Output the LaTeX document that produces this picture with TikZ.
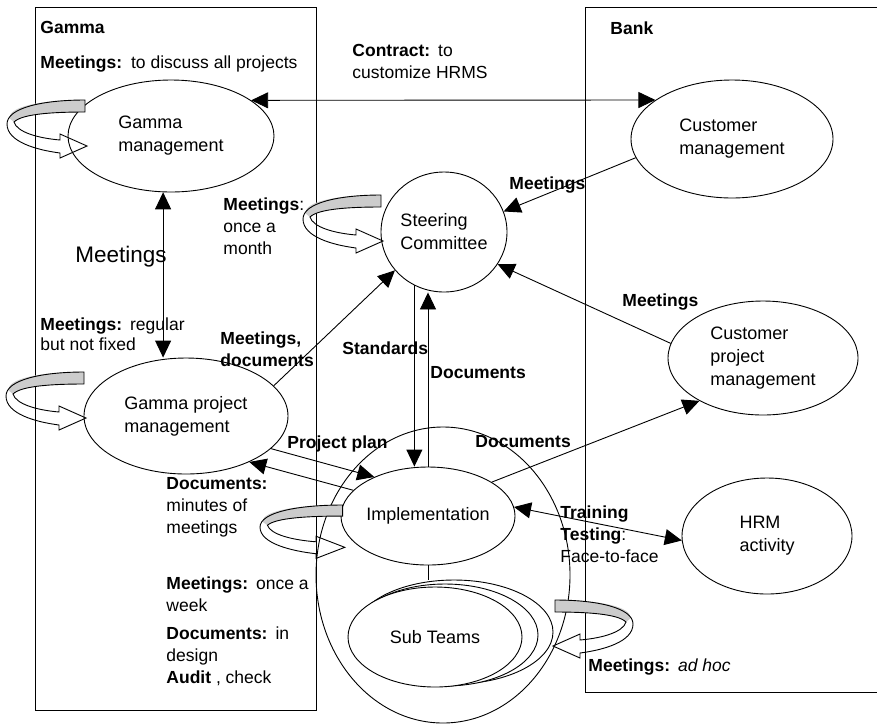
\documentclass[tikz,border=0pt]{standalone}
\usepackage{fontspec}
\setmainfont{Liberation Sans}
\usetikzlibrary{shapes.geometric,arrows.meta}

\tikzset{
  actor/.style={draw, ellipse, inner sep=0pt, align=left, font=\fontsize{18}{23}\selectfont},
  lbl/.style={inner sep=0pt, align=left, font=\fontsize{17.5}{22}\selectfont},
  flow/.style={-{Triangle[length=17pt,width=16pt]}},
  both/.style={{Triangle[length=17pt,width=16pt]}-{Triangle[length=17pt,width=16pt]}},
  meetloop/.pic={
    \fill[gray!40] (78,0) .. controls (35,0) and (3,6) .. (2,18) -- (7,22) .. controls (15,14) and (45,12) .. (78,12) -- cycle;
    \draw (78,0) .. controls (35,0) and (0,8) .. (0,24) .. controls (0,42) and (30,50) .. (53,53)
      -- (53,58) -- (80,46) -- (53,34) -- (53,40) .. controls (30,38) and (10,32) .. (7,22)
      .. controls (15,14) and (45,12) .. (78,12) -- cycle;
  }
}

\begin{document}
\begin{tikzpicture}[x=1pt, y=-1pt, line width=0.9pt]
  \useasboundingbox (0,0) rectangle (877,724);

  % the two sides
  \draw (35,7) rectangle (316,710);
  \draw (877,7) -- (585,7) -- (585,692) -- (877,692);

  % groups
  \node[actor, minimum width=254pt, minimum height=296pt] (grp) at (443,575) {};
  \node[actor, minimum width=206pt, minimum height=112pt] (gm) at (171,136) {Gamma\\management};
  \node[actor, minimum width=126pt, minimum height=120pt] (sc) at (444,232) {Steering\\Committee};
  \node[actor, minimum width=202pt, minimum height=118pt] (cm) at (732,139) {Customer\\management};
  \node[actor, minimum width=190pt, minimum height=114pt] (cpm) at (763,358) {Customer\\project\\management};
  \node[actor, minimum width=204pt, minimum height=116pt] (gpm) at (186,416) {Gamma project\\management};
  \node[actor, minimum width=172pt, minimum height=98pt] (impl) at (428,516) {Implementation};
  \node[actor, minimum width=170pt, minimum height=116pt] (hrm) at (767,536) {HRM\\activity};
  \node[actor, fill=white, minimum width=198pt, minimum height=104pt] (st1) at (454,632) {};
  \node[actor, fill=white, minimum width=186pt, minimum height=102pt] (st2) at (445,635) {};
  \node[actor, fill=white, minimum width=174pt, minimum height=100pt] (st) at (435,637) {Sub Teams};

  % meetings inside each group
  \pic at (7,100) {meetloop};
  \pic at (303,195) {meetloop};
  \pic at (6,372) {meetloop};
  \pic[xscale=1.06, yscale=0.92] at (260,505) {meetloop};
  \pic[xscale=-1] at (633,600) {meetloop};

  % links
  \draw[both] (gm.24) -- (cm.153);
  \draw[both] (gm.262) -- (gm.262 |- gpm.north);
  \draw[flow] (gpm.19) -- (sc.218);
  \draw[flow] (cm.191) -- (sc.19);
  \draw[flow] (cpm.171) -- (sc.329);
  \draw[flow] (sc.241) -- (sc.241 |- impl.north);
  \draw[flow] (impl.north) -- (impl.north |- sc.south);
  \draw[flow] (gpm.339) -- (impl.144);
  \draw[flow] (impl.161) -- (gpm.324);
  \draw[flow] (impl.28) -- (cpm.214);
  \draw[both] (impl.6) -- (hrm.183);
  \draw (impl.south) -- (impl.south |- st1.north);

  % labels
  \node[lbl, anchor=base west] (tgamma) at (40,33) {\textbf{Gamma}};
  \node[lbl, anchor=base west] (tbank) at (610,34) {\textbf{Bank}};
  \node[lbl, anchor=base west] (tdiscuss) at (40,68) {\textbf{Meetings:}\hspace{9pt}to discuss all projects};
  \node[lbl, anchor=north west] (tcontract) at (352,44) {\textbf{Contract:}\hspace{8pt}to\\customize HRMS};
  \node[lbl, anchor=north west] (tmonth) at (223,197) {\textbf{Meetings}:\\once a\\month};
  \node[lbl, anchor=base west, font=\fontsize{22.5}{26}\selectfont] (tmeet) at (75,262) {Meetings};
  \node[lbl, anchor=north west, font=\fontsize{17.5}{20.5}\selectfont] (tregular) at (40,317) {\textbf{Meetings:}\hspace{8pt}regular\\but not fixed};
  \node[lbl, anchor=north west] (tmeetdoc) at (220,331) {\textbf{Meetings,}\\\textbf{documents}};
  \node[lbl, anchor=base west] (tstd) at (342,354) {\textbf{Standards}};
  \node[lbl, anchor=base west] (tdocup) at (430,378) {\textbf{Documents}};
  \node[lbl, anchor=base west] (tmeetcm) at (509,189) {\textbf{Meetings}};
  \node[lbl, anchor=base west] (tmeetcpm) at (622,306) {\textbf{Meetings}};
  \node[lbl, anchor=base west] (tplan) at (287,448) {\textbf{Project plan}};
  \node[lbl, anchor=north west] (tminutes) at (166,477) {\textbf{Documents:}\\minutes of\\meetings};
  \node[lbl, anchor=base west] (tdoccpm) at (475,447) {\textbf{Documents}};
  \node[lbl, anchor=north west] (ttrain) at (560,505) {\textbf{Training}\\\textbf{Testing}:\\Face-to-face};
  \node[lbl, anchor=north west] (tweek) at (166,576) {\textbf{Meetings:}\hspace{8pt}once a\\week};
  \node[lbl, anchor=north west] (tdesign) at (166,626) {\textbf{Documents:}\hspace{8pt}in\\design};
  \node[lbl, anchor=base west] (taudit) at (166,683) {\textbf{Audit} , check};
  \node[lbl, anchor=base west] (tadhoc) at (588,671) {\textbf{Meetings:}\hspace{8pt}\textit{ad hoc}};
\end{tikzpicture}
\end{document}
